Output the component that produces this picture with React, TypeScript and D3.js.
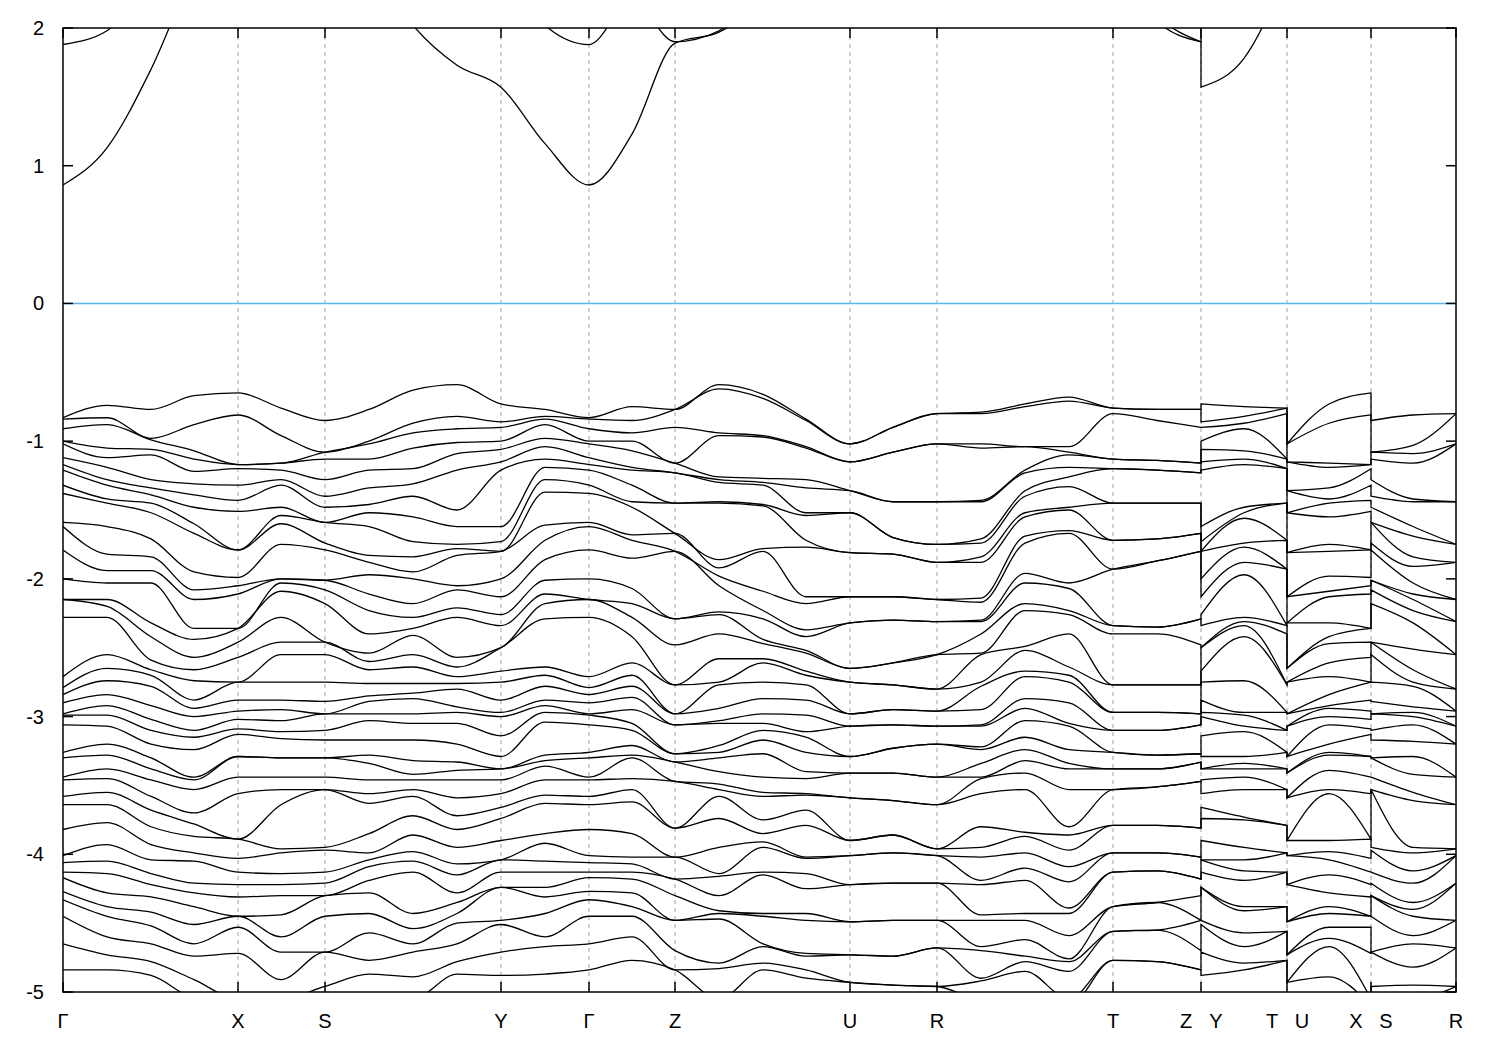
import * as d3 from 'd3'

// k-path positions (same units as the plot's distance along the path)
const tickK = [0, 175, 262, 438, 526, 612, 787, 874, 1050, 1138, 1224, 1308, 1393]
const tickLabels = ['Γ', 'X', 'S', 'Y', 'Γ', 'Z', 'U', 'R', 'T', 'Z Y', 'T U', 'X S', 'R']
const yTicks = [2, 1, 0, -1, -2, -3, -4, -5]

// sample positions for each continuous piece of the path
const kPiece1 = [0, 44, 88, 131, 175, 218, 262, 306, 350, 394, 438, 482, 526, 569, 612, 656, 700, 743, 787, 830, 874, 918, 962, 1006, 1050, 1094, 1138]
const kPiece2 = [1138, 1181, 1224]
const kPiece3 = [1224, 1266, 1308]
const kPiece4 = [1308, 1350, 1393]

// valence energies (eV) read at each sample, top to bottom
const eG = [-0.83, -0.84, -0.91, -1.00, -1.02, -1.12, -1.17, -1.21, -1.32, -1.38, -1.59, -1.62, -1.79, -2.00, -2.15, -2.15, -2.28, -2.71, -2.79, -2.84, -2.90, -2.98, -2.99, -3.06, -3.26, -3.30, -3.44, -3.46, -3.58, -3.64, -3.82, -4.01, -4.06, -4.13, -4.17, -4.27, -4.33, -4.45, -4.65, -4.84]
const eGX1 = [-0.74, -0.83, -0.88, -1.05, -1.12, -1.19, -1.28, -1.32, -1.42, -1.45, -1.62, -1.82, -1.94, -2.03, -2.15, -2.20, -2.28, -2.55, -2.65, -2.74, -2.84, -2.92, -2.99, -3.07, -3.20, -3.28, -3.38, -3.45, -3.55, -3.64, -3.77, -3.93, -4.05, -4.14, -4.28, -4.38, -4.45, -4.60, -4.73, -4.84]
const eGX2 = [-0.77, -0.98, -0.99, -1.06, -1.10, -1.28, -1.34, -1.39, -1.45, -1.52, -1.71, -1.84, -1.94, -2.03, -2.32, -2.42, -2.59, -2.66, -2.70, -2.78, -2.92, -3.02, -3.10, -3.20, -3.30, -3.38, -3.46, -3.58, -3.68, -3.80, -3.93, -4.04, -4.14, -4.22, -4.31, -4.42, -4.52, -4.65, -4.78, -4.88]
const eGX3 = [-0.67, -0.88, -1.07, -1.13, -1.22, -1.31, -1.39, -1.48, -1.60, -1.67, -1.95, -2.08, -2.15, -2.36, -2.44, -2.57, -2.66, -2.74, -2.88, -2.94, -3.00, -3.10, -3.15, -3.24, -3.44, -3.46, -3.53, -3.70, -3.78, -3.87, -3.99, -4.05, -4.21, -4.28, -4.38, -4.51, -4.65, -4.74, -4.91, -5.05]
const eX = [-0.65, -0.81, -1.17, -1.17, -1.20, -1.32, -1.43, -1.51, -1.79, -1.79, -1.99, -2.05, -2.11, -2.36, -2.36, -2.46, -2.57, -2.75, -2.75, -2.88, -2.96, -3.02, -3.09, -3.13, -3.29, -3.29, -3.44, -3.56, -3.89, -3.89, -4.03, -4.13, -4.22, -4.31, -4.45, -4.45, -4.53, -4.72, -5.05, -5.10]
const eXS = [-0.76, -0.96, -1.16, -1.16, -1.21, -1.28, -1.32, -1.48, -1.54, -1.60, -1.75, -2.00, -2.00, -2.03, -2.09, -2.28, -2.46, -2.55, -2.75, -2.88, -2.95, -3.03, -3.11, -3.16, -3.30, -3.30, -3.44, -3.53, -3.64, -3.96, -3.99, -4.14, -4.22, -4.30, -4.44, -4.60, -4.71, -4.91, -5.05, -5.10]
const eS = [-0.85, -1.08, -1.08, -1.13, -1.28, -1.40, -1.48, -1.59, -1.59, -1.74, -1.79, -2.01, -2.01, -2.08, -2.18, -2.46, -2.46, -2.55, -2.75, -2.89, -2.98, -2.98, -3.10, -3.17, -3.30, -3.30, -3.44, -3.53, -3.53, -3.95, -3.97, -4.13, -4.21, -4.30, -4.30, -4.45, -4.71, -4.71, -4.96, -5.05]
const eSY1 = [-0.77, -1.00, -1.02, -1.13, -1.21, -1.34, -1.46, -1.52, -1.62, -1.83, -1.88, -1.97, -2.11, -2.23, -2.40, -2.54, -2.60, -2.66, -2.76, -2.85, -2.89, -2.98, -3.03, -3.17, -3.28, -3.34, -3.46, -3.56, -3.63, -3.85, -3.99, -4.04, -4.09, -4.19, -4.28, -4.43, -4.57, -4.77, -4.87, -5.05]
const eSY2 = [-0.63, -0.87, -0.94, -1.05, -1.20, -1.31, -1.40, -1.55, -1.73, -1.84, -1.95, -2.00, -2.18, -2.28, -2.36, -2.41, -2.55, -2.64, -2.76, -2.83, -2.87, -2.98, -3.05, -3.17, -3.32, -3.42, -3.46, -3.53, -3.58, -3.72, -3.86, -3.98, -4.05, -4.13, -4.43, -4.54, -4.65, -4.71, -4.89, -5.05]
const eSY3 = [-0.59, -0.82, -0.91, -1.01, -1.09, -1.21, -1.50, -1.62, -1.75, -1.78, -1.83, -2.05, -2.08, -2.21, -2.28, -2.57, -2.64, -2.71, -2.76, -2.80, -2.93, -2.97, -3.05, -3.20, -3.33, -3.39, -3.46, -3.59, -3.72, -3.82, -3.95, -4.07, -4.15, -4.28, -4.35, -4.43, -4.50, -4.65, -4.78, -4.87]
const eY = [-0.73, -0.86, -0.90, -1.00, -1.06, -1.15, -1.21, -1.62, -1.73, -1.80, -1.80, -2.00, -2.13, -2.26, -2.34, -2.50, -2.50, -2.67, -2.75, -2.88, -2.97, -3.00, -3.14, -3.29, -3.38, -3.38, -3.46, -3.56, -3.66, -3.74, -3.90, -4.04, -4.04, -4.13, -4.24, -4.24, -4.48, -4.51, -4.71, -4.88]
const eYG = [-0.77, -0.82, -0.84, -0.88, -0.98, -1.04, -1.13, -1.19, -1.28, -1.37, -1.61, -1.72, -1.86, -2.01, -2.11, -2.18, -2.29, -2.64, -2.70, -2.78, -2.88, -2.92, -2.97, -3.04, -3.28, -3.32, -3.36, -3.46, -3.57, -3.63, -3.85, -3.92, -4.05, -4.13, -4.24, -4.31, -4.43, -4.60, -4.67, -4.87]
const eGZ = [-0.75, -0.85, -0.94, -1.00, -1.07, -1.19, -1.21, -1.32, -1.44, -1.48, -1.68, -1.72, -1.85, -2.07, -2.18, -2.28, -2.42, -2.61, -2.70, -2.78, -2.86, -2.95, -3.05, -3.10, -3.21, -3.28, -3.30, -3.45, -3.53, -3.62, -3.85, -4.02, -4.07, -4.13, -4.18, -4.28, -4.38, -4.45, -4.60, -4.77]
const eZ = [-0.77, -0.77, -0.90, -1.16, -1.16, -1.23, -1.23, -1.45, -1.45, -1.67, -1.67, -1.80, -1.80, -2.29, -2.29, -2.48, -2.77, -2.77, -2.98, -2.98, -3.06, -3.06, -3.27, -3.27, -3.33, -3.33, -3.47, -3.47, -3.81, -3.81, -4.02, -4.02, -4.18, -4.18, -4.30, -4.48, -4.48, -4.70, -4.84, -4.84]
const eZU1 = [-0.59, -0.62, -0.94, -0.96, -1.26, -1.28, -1.30, -1.44, -1.45, -1.86, -1.92, -1.98, -2.05, -2.24, -2.26, -2.40, -2.58, -2.75, -2.77, -2.94, -3.03, -3.05, -3.21, -3.26, -3.30, -3.40, -3.49, -3.53, -3.58, -3.74, -3.95, -4.14, -4.16, -4.30, -4.41, -4.43, -4.47, -4.79, -4.83, -5.05]
const eZU2 = [-0.66, -0.69, -0.96, -0.97, -1.27, -1.30, -1.32, -1.46, -1.47, -1.78, -1.80, -2.09, -2.23, -2.29, -2.44, -2.47, -2.58, -2.61, -2.75, -2.87, -2.98, -3.05, -3.10, -3.17, -3.27, -3.44, -3.55, -3.58, -3.75, -3.85, -3.91, -3.95, -4.13, -4.15, -4.43, -4.45, -4.65, -4.67, -4.79, -4.84]
const eZU3 = [-0.84, -0.85, -1.04, -1.05, -1.28, -1.34, -1.52, -1.54, -1.72, -1.77, -2.13, -2.18, -2.37, -2.42, -2.52, -2.54, -2.67, -2.70, -2.77, -2.88, -2.99, -3.11, -3.15, -3.26, -3.40, -3.45, -3.56, -3.57, -3.68, -3.79, -4.02, -4.03, -4.14, -4.25, -4.43, -4.48, -4.72, -4.74, -4.84, -4.90]
const eU = [-1.02, -1.02, -1.15, -1.15, -1.36, -1.36, -1.52, -1.52, -1.81, -1.81, -2.13, -2.13, -2.32, -2.32, -2.65, -2.65, -2.75, -2.75, -2.98, -2.98, -3.07, -3.07, -3.29, -3.29, -3.41, -3.41, -3.59, -3.59, -3.90, -3.90, -4.01, -4.01, -4.22, -4.22, -4.49, -4.49, -4.73, -4.73, -4.93, -4.93]
const eUR = [-0.90, -0.90, -1.08, -1.08, -1.44, -1.44, -1.70, -1.70, -1.82, -1.82, -2.13, -2.13, -2.30, -2.30, -2.61, -2.61, -2.77, -2.77, -2.95, -2.95, -3.06, -3.06, -3.23, -3.23, -3.41, -3.41, -3.61, -3.61, -3.86, -3.86, -3.99, -3.99, -4.21, -4.21, -4.48, -4.48, -4.74, -4.74, -4.95, -4.95]
const eR = [-0.80, -0.80, -1.02, -1.02, -1.44, -1.44, -1.75, -1.75, -1.88, -1.88, -2.15, -2.15, -2.31, -2.31, -2.55, -2.55, -2.80, -2.80, -2.96, -2.96, -3.07, -3.07, -3.20, -3.20, -3.44, -3.44, -3.64, -3.64, -3.96, -3.96, -4.01, -4.01, -4.21, -4.21, -4.48, -4.48, -4.68, -4.68, -4.96, -4.96]
const eRT1 = [-0.79, -0.80, -1.02, -1.05, -1.43, -1.44, -1.71, -1.74, -1.84, -1.88, -2.14, -2.17, -2.30, -2.31, -2.40, -2.54, -2.55, -2.75, -2.78, -2.95, -3.06, -3.07, -3.22, -3.24, -3.34, -3.44, -3.45, -3.56, -3.80, -3.95, -4.02, -4.19, -4.22, -4.44, -4.48, -4.67, -4.70, -4.90, -4.92, -5.05]
const eRT2 = [-0.73, -0.75, -1.04, -1.04, -1.21, -1.23, -1.36, -1.40, -1.52, -1.55, -1.69, -1.74, -1.96, -2.03, -2.18, -2.23, -2.49, -2.52, -2.67, -2.71, -2.87, -2.94, -3.03, -3.15, -3.24, -3.32, -3.41, -3.53, -3.84, -3.87, -3.99, -4.10, -4.19, -4.43, -4.48, -4.62, -4.74, -4.78, -4.85, -5.05]
const eRT3 = [-0.68, -0.71, -1.04, -1.08, -1.10, -1.19, -1.26, -1.33, -1.48, -1.50, -1.65, -1.67, -2.03, -2.07, -2.23, -2.26, -2.40, -2.64, -2.70, -2.75, -2.90, -3.05, -3.07, -3.24, -3.34, -3.38, -3.53, -3.80, -3.86, -3.97, -4.09, -4.20, -4.39, -4.43, -4.59, -4.76, -4.78, -4.85, -5.05, -5.10]
const eT = [-0.76, -0.76, -0.80, -1.13, -1.13, -1.20, -1.20, -1.45, -1.45, -1.72, -1.72, -1.93, -1.93, -2.34, -2.34, -2.40, -2.77, -2.77, -2.97, -2.97, -3.10, -3.10, -3.26, -3.26, -3.38, -3.38, -3.53, -3.53, -3.79, -3.79, -3.99, -3.99, -4.13, -4.13, -4.38, -4.38, -4.56, -4.56, -4.77, -4.77]
const eTZ = [-0.77, -0.77, -0.85, -1.14, -1.14, -1.21, -1.21, -1.45, -1.45, -1.71, -1.71, -1.87, -1.87, -2.35, -2.35, -2.40, -2.77, -2.77, -2.97, -2.97, -3.10, -3.10, -3.28, -3.28, -3.38, -3.38, -3.51, -3.51, -3.79, -3.79, -3.99, -3.99, -4.12, -4.12, -4.35, -4.35, -4.55, -4.55, -4.78, -4.78]
const eYT = [-0.75, -0.82, -0.87, -0.91, -1.07, -1.13, -1.17, -1.48, -1.52, -1.56, -1.74, -1.77, -1.88, -1.97, -2.28, -2.31, -2.34, -2.42, -2.74, -2.97, -2.99, -3.07, -3.11, -3.29, -3.34, -3.38, -3.44, -3.53, -3.73, -3.75, -3.95, -4.04, -4.12, -4.19, -4.38, -4.41, -4.57, -4.67, -4.79, -4.84]
const eUX = [-0.73, -0.87, -1.16, -1.19, -1.34, -1.42, -1.45, -1.55, -1.75, -1.80, -1.98, -2.09, -2.13, -2.32, -2.42, -2.47, -2.61, -2.71, -2.84, -2.92, -2.94, -3.00, -3.06, -3.20, -3.26, -3.28, -3.39, -3.53, -3.56, -3.90, -3.98, -4.04, -4.15, -4.28, -4.38, -4.43, -4.53, -4.61, -4.67, -4.89]
const eSR = [-0.81, -1.03, -1.09, -1.16, -1.42, -1.44, -1.62, -1.69, -1.84, -1.91, -2.03, -2.11, -2.15, -2.23, -2.32, -2.51, -2.66, -2.75, -2.78, -2.93, -2.97, -3.00, -3.06, -3.18, -3.29, -3.42, -3.55, -3.61, -3.95, -3.99, -4.12, -4.21, -4.35, -4.40, -4.45, -4.59, -4.65, -4.82, -4.95, -5.05]

// conduction bands, in path order (27 + 3 + 3 + 3 samples)
const cb1 = [0.86, 1.13, 1.70, 2.40, 2.80, 2.90, 2.90, 2.50, 2.02, 1.73, 1.57, 1.16, 0.86, 1.23, 1.89, 1.97, 2.20, 2.60, 2.80, 2.90, 2.90, 2.80, 2.70, 2.60, 2.50, 2.05, 1.90, 1.57, 1.78, 2.40, 2.80, 2.80, 2.80, 2.90, 2.90, 2.90]
const cb2 = [1.88, 1.98, 2.40, 2.80, 3.00, 3.00, 3.00, 3.00, 3.00, 2.80, 2.60, 2.02, 1.88, 2.20, 1.90, 1.98, 2.30, 2.60, 2.80, 2.90, 2.90, 2.90, 2.90, 2.80, 2.60, 2.10, 1.90, 2.50, 2.70, 2.90, 3.00, 3.00, 3.00, 3.00, 3.00, 3.00]

const pieceK = [kPiece1, kPiece2, kPiece3, kPiece4]
const pieceCols = [
  [eG, eGX1, eGX2, eGX3, eX, eXS, eS, eSY1, eSY2, eSY3, eY, eYG, eG, eGZ, eZ, eZU1, eZU2, eZU3, eU, eUR, eR, eRT1, eRT2, eRT3, eT, eTZ, eZ],
  [eY, eYT, eT],
  [eU, eUX, eX],
  [eS, eSR, eR],
]

const W = 1500
const H = 1050
const left = 63
const right = 1456
const top = 28
const bottom = 992
const font = "'Liberation Sans', Arial, Helvetica, sans-serif"

export default function App() {
  const x = d3.scaleLinear().domain([0, 1393]).range([left, right])
  const y = d3.scaleLinear().domain([-5, 2]).range([bottom, top])
  const line = d3
    .line<[number, number]>()
    .x((d) => x(d[0]))
    .y((d) => y(d[1]))
    .curve(d3.curveMonotoneX)

  // join the pieces of one band into a single path, with vertical jumps
  const joinPieces = (pieces: [number, number][][]) =>
    pieces
      .map((pts, i) => {
        const d = line(pts) ?? ''
        return i === 0 ? d : d.replace(/^M/, 'L')
      })
      .join('')

  const nBands = eG.length
  const valencePaths: string[] = []
  for (let b = 0; b < nBands; b++) {
    const pieces = pieceCols.map((cols, p) =>
      cols.map((c, j) => [pieceK[p][j], c[b]] as [number, number])
    )
    valencePaths.push(joinPieces(pieces))
  }

  const condPaths = [cb1, cb2].map((band) => {
    let idx = 0
    const pieces = pieceK.map((ks) =>
      ks.map((k) => [k, band[idx++]] as [number, number])
    )
    return joinPieces(pieces)
  })

  return (
    <svg
      width={W}
      height={H}
      style={{ position: 'absolute', left: 0, top: 0, background: '#fff' }}
    >
      <defs>
        <clipPath id='plotArea'>
          <rect x={left} y={top} width={right - left} height={bottom - top} />
        </clipPath>
      </defs>
      <rect x={0} y={0} width={W} height={H} fill='#fff' />

      {/* dashed k-point grid */}
      {tickK.slice(1, -1).map((k, i) => (
        <line
          key={'g' + i}
          x1={x(k)}
          x2={x(k)}
          y1={top}
          y2={bottom}
          stroke='#a0a0a0'
          strokeWidth={1}
          strokeDasharray='4,4'
        />
      ))}

      {/* Fermi level */}
      <line x1={left} x2={right} y1={y(0)} y2={y(0)} stroke='#56b4e9' strokeWidth={1.5} />

      <g clipPath='url(#plotArea)' fill='none' stroke='#000' strokeWidth={1.3}>
        {valencePaths.map((d, i) => (
          <path key={'v' + i} d={d} />
        ))}
        {condPaths.map((d, i) => (
          <path key={'c' + i} d={d} />
        ))}
      </g>

      {/* frame and ticks */}
      <rect
        x={left}
        y={top}
        width={right - left}
        height={bottom - top}
        fill='none'
        stroke='#000'
        strokeWidth={1.5}
      />
      {tickK.map((k, i) => (
        <g key={'t' + i} stroke='#000' strokeWidth={1.5}>
          <line x1={x(k)} x2={x(k)} y1={bottom} y2={bottom - 10} />
          <line x1={x(k)} x2={x(k)} y1={top} y2={top + 10} />
        </g>
      ))}
      {yTicks.map((v) => (
        <g key={'y' + v} stroke='#000' strokeWidth={1.5}>
          <line x1={left} x2={left + 10} y1={y(v)} y2={y(v)} />
          <line x1={right} x2={right - 10} y1={y(v)} y2={y(v)} />
        </g>
      ))}

      {/* labels */}
      {yTicks.map((v) => (
        <text
          key={'yl' + v}
          x={44}
          y={y(v) + 7}
          textAnchor='end'
          fontFamily={font}
          fontSize={20}
          fill='#000'
        >
          {String(v)}
        </text>
      ))}
      {tickLabels.map((lab, i) => {
        const parts = lab.split(' ')
        const cx = x(tickK[i])
        if (parts.length === 1) {
          return (
            <text
              key={'xl' + i}
              x={cx}
              y={1028}
              textAnchor='middle'
              fontFamily={font}
              fontSize={20}
              fill='#000'
            >
              {lab}
            </text>
          )
        }
        return (
          <g key={'xl' + i} fontFamily={font} fontSize={20} fill='#000' textAnchor='middle'>
            <text x={cx - 15} y={1028}>
              {parts[0]}
            </text>
            <text x={cx + 15} y={1028}>
              {parts[1]}
            </text>
          </g>
        )
      })}
    </svg>
  )
}
